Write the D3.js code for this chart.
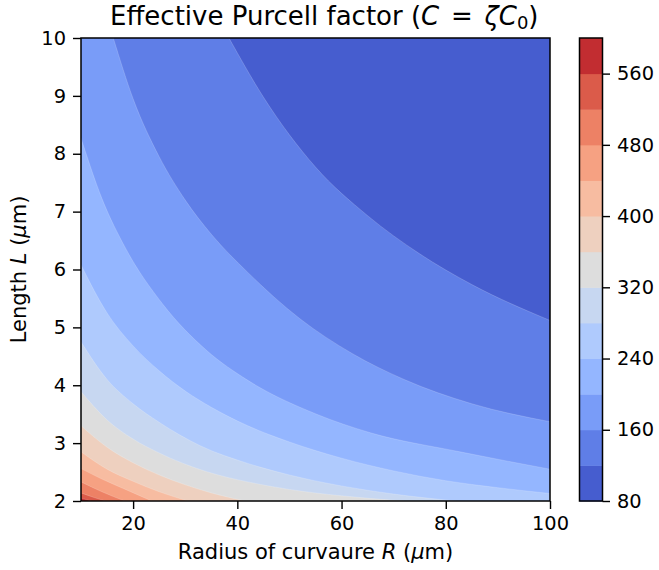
<!DOCTYPE html>
<html><head><meta charset="utf-8">
<script src="https://cdn.jsdelivr.net/npm/d3@7"></script>
<style>
body{margin:0;background:#fff}
text{font-family:"DejaVu Sans",sans-serif;fill:#000}
</style>
</head><body>
<svg id="c" width="659" height="570"></svg>
<script>
// Contour levels (fill bands between consecutive levels)
const levels = [80,120,160,200,240,280,320,360,400,440,480,520,560,600];
// coolwarm colours sampled at the band mid-points
const bandColors = ["#465dcf","#5f7ee7","#799cf8","#94b6ff","#afcafd","#c7d7f1","#dddddd",
                    "#eed0bf","#f7bca1","#f6a182","#ed8165","#db5b4a","#c22d31"];
const colorbarTicks = [80,160,240,320,400,480,560];
const xTicks = [20,40,60,80,100];
const yTicks = [2,3,4,5,6,7,8,9,10];
const xDomain = [10,100];
const yDomain = [2,10];

// Iso-lines: [R (µm), L (µm)] along each contour level
const c120 = [[38.4,10],[45,8.98],[55,7.77],[65,6.93],[75,6.27],[85,5.74],[100,5.12]];
const c160 = [[16.2,10],[20,8.95],[25,7.95],[30,7.2],[35,6.61],[42,5.95],[52,5.15],[62,4.55],[72,4.1],[85,3.68],[100,3.37]];
const c200 = [[10,8.27],[14,7.23],[18.6,6.36],[25.7,5.4],[34,4.61],[42.1,4.08],[55.2,3.5],[65.5,3.18],[82.7,2.85],[100,2.55]];
const c240 = [[10,6.08],[15,5.25],[20,4.68],[25,4.25],[30,3.9],[35,3.62],[42,3.3],[50,3.02],[60,2.74],[70,2.52],[80,2.35],[90,2.23],[100,2.13]];
const c280 = [[10,4.75],[15,4.1],[20,3.68],[25,3.36],[33,2.95],[42,2.65],[50,2.45],[60,2.26],[70,2.12],[82,2]];
const c320 = [[10,3.89],[15,3.4],[20,3.07],[25,2.83],[34,2.51],[42,2.33],[50,2.2],[60,2.09],[72,2]];
const c360 = [[10,3.3],[15,2.93],[20,2.66],[25,2.45],[30,2.28],[35,2.14],[41.5,2]];
const c400 = [[10,2.85],[15,2.55],[20,2.34],[25,2.16],[30.5,2]];
const c440 = [[10,2.56],[14,2.38],[18,2.22],[23.6,2]];
const c480 = [[10,2.33],[14,2.16],[18.4,2]];
const c520 = [[10,2.14],[12.5,2.06],[14.7,2]];
const c560 = [[10,2.05],[11.9,2]];
const contours = [c120,c160,c200,c240,c280,c320,c360,c400,c440,c480,c520,c560];

const svg = d3.select("#c");
const plot = {left:81, right:550, top:38, bottom:501};
const x = d3.scaleLinear().domain(xDomain).range([plot.left, plot.right]);
const y = d3.scaleLinear().domain(yDomain).range([plot.bottom, plot.top]);

svg.append("clipPath").attr("id","clip").append("rect")
  .attr("x",plot.left).attr("y",plot.top)
  .attr("width",plot.right-plot.left).attr("height",plot.bottom-plot.top);

const g = svg.append("g").attr("clip-path","url(#clip)");
g.append("rect").attr("x",plot.left).attr("y",plot.top)
  .attr("width",plot.right-plot.left).attr("height",plot.bottom-plot.top)
  .attr("fill",bandColors[0]);

const line = d3.line().x(d=>x(d[0])).y(d=>y(d[1])).curve(d3.curveMonotoneX);
function regionPath(pts){
  const [x0,x1] = xDomain, [y0,y1] = yDomain;
  let p = "M"+x(x0)+","+y(y0);
  if (pts[0][0] > x0) p += "L"+x(x0)+","+y(y1);
  p += "L" + line(pts).slice(1);
  const last = pts[pts.length-1];
  if (last[1] > y0) p += "L"+x(x1)+","+y(y0);
  return p + "Z";
}
contours.forEach((pts,i)=>{
  g.append("path").attr("d",regionPath(pts)).attr("fill",bandColors[i+1]);
});
contours.forEach(pts=>{
  g.append("path").attr("d",line(pts)).attr("fill","none")
   .attr("stroke","#ffffff").attr("stroke-opacity",0.25).attr("stroke-width",0.7);
});

// axes
const fs = 19.4, fl = 21;
const xAxis = d3.axisBottom(x).tickValues(xTicks).tickSize(8).tickPadding(7).tickFormat(d3.format("d"));
const yAxis = d3.axisLeft(y).tickValues(yTicks).tickSize(8).tickPadding(7).tickFormat(d3.format("d"));
const gx = svg.append("g").attr("transform",`translate(0,${plot.bottom})`).call(xAxis);
const gy = svg.append("g").attr("transform",`translate(${plot.left},0)`).call(yAxis);
[gx,gy].forEach(a=>{
  a.select(".domain").remove();
  a.selectAll("line").attr("stroke","#000").attr("stroke-width",1.4);
  a.selectAll("text").attr("font-size",fs).attr("font-family","DejaVu Sans").attr("fill","#000");
});
svg.append("rect").attr("x",plot.left).attr("y",plot.top)
  .attr("width",plot.right-plot.left).attr("height",plot.bottom-plot.top)
  .attr("fill","none").attr("stroke","#000").attr("stroke-width",1.5);

// colorbar
const cb = {left:579.5, right:602.5};
const cy = d3.scaleLinear().domain([levels[0], levels[levels.length-1]]).range([plot.bottom, plot.top]);
svg.append("g").selectAll("rect").data(bandColors).join("rect")
  .attr("x",cb.left).attr("width",cb.right-cb.left)
  .attr("y",(d,i)=>cy(levels[i+1])).attr("height",(d,i)=>cy(levels[i])-cy(levels[i+1])+0.5)
  .attr("fill",d=>d);
svg.append("rect").attr("x",cb.left).attr("y",plot.top).attr("width",cb.right-cb.left)
  .attr("height",plot.bottom-plot.top).attr("fill","none").attr("stroke","#000").attr("stroke-width",1.5);
const cAxis = d3.axisRight(cy).tickValues(colorbarTicks).tickSize(7.5).tickPadding(7).tickFormat(d3.format("d"));
const gc = svg.append("g").attr("transform",`translate(${cb.right},0)`).call(cAxis);
gc.select(".domain").remove();
gc.selectAll("line").attr("stroke","#000").attr("stroke-width",1.4);
gc.selectAll("text").attr("font-size",fs).attr("font-family","DejaVu Sans").attr("fill","#000");

// title
const title = svg.append("text").attr("x",110).attr("y",25)
  .attr("text-anchor","start").attr("font-size",26);
title.append("tspan").text("Effective Purcell factor (");
title.append("tspan").attr("font-style","italic").text("C");
title.append("tspan").attr("dx",3.5).text(" = ");
title.append("tspan").attr("dx",3.5).attr("font-style","italic").text("ζC");
title.append("tspan").attr("font-size",18).attr("dy",4).text("0");
title.append("tspan").attr("dy",-4).text(")");

// x label
const xl = svg.append("text").attr("x",(plot.left+plot.right)/2).attr("y",559)
  .attr("text-anchor","middle").attr("font-size",fl);
xl.append("tspan").text("Radius of curvaure ");
xl.append("tspan").attr("font-style","italic").text("R");
xl.append("tspan").text(" (");
xl.append("tspan").attr("font-style","italic").text("μ");
xl.append("tspan").text("m)");

// y label
const yl = svg.append("text").attr("transform",`translate(26,${(plot.top+plot.bottom)/2}) rotate(-90)`)
  .attr("text-anchor","middle").attr("font-size",fl);
yl.append("tspan").text("Length ");
yl.append("tspan").attr("font-style","italic").text("L");
yl.append("tspan").text(" (");
yl.append("tspan").attr("font-style","italic").text("μ");
yl.append("tspan").text("m)");
</script>
</body></html>
